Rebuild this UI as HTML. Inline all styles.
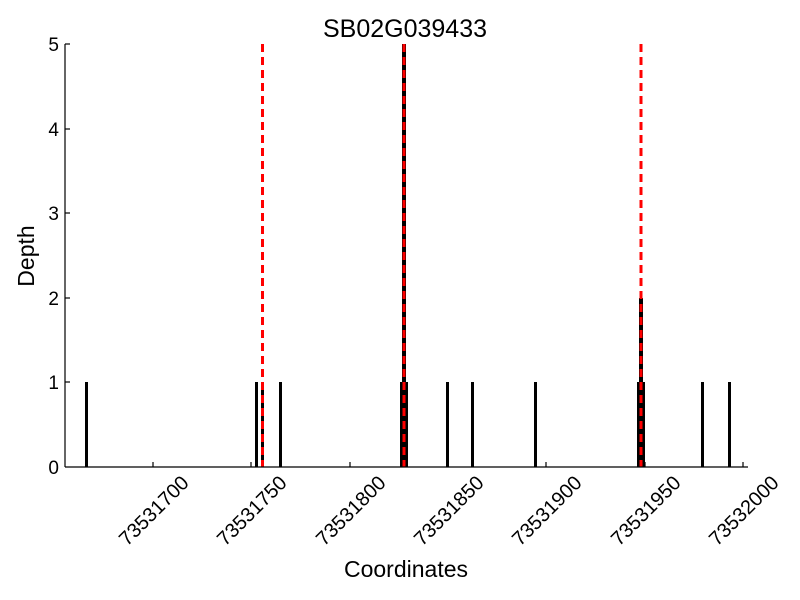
<!DOCTYPE html>
<html><head><meta charset="utf-8"><style>body{margin:0;background:#fff}svg{display:block}</style></head>
<body>
<svg width="800" height="600" xmlns="http://www.w3.org/2000/svg" font-family="Liberation Sans, DejaVu Sans, sans-serif">
<rect width="800" height="600" fill="#fff"/>
<text x="405" y="37" font-size="25" text-anchor="middle">SB02G039433</text>
<g fill="#000">
<rect x="85" y="382" width="3" height="85"/>
<rect x="255" y="382" width="3" height="85"/>
<rect x="261" y="382" width="3" height="85"/>
<rect x="279" y="382" width="3" height="85"/>
<rect x="400" y="382" width="3" height="85"/>
<rect x="405" y="382" width="3" height="85"/>
<rect x="402" y="44" width="4" height="423"/>
<rect x="446" y="382" width="3" height="85"/>
<rect x="471" y="382" width="3" height="85"/>
<rect x="534" y="382" width="3" height="85"/>
<rect x="637" y="382" width="3" height="85"/>
<rect x="642" y="382" width="3" height="85"/>
<rect x="639" y="298" width="4" height="169"/>
<rect x="701" y="382" width="3" height="85"/>
<rect x="728" y="382" width="3" height="85"/>
</g>
<g stroke="#f00" stroke-width="3" stroke-dasharray="8,5">
<line x1="262.5" y1="44" x2="262.5" y2="467"/>
<line x1="404" y1="44" x2="404" y2="467"/>
<line x1="641" y1="44" x2="641" y2="467"/>
</g>
<g stroke="#000" stroke-width="1.2" fill="none">
<line x1="65" y1="44" x2="65" y2="467"/>
<line x1="65" y1="467" x2="748" y2="467"/>
<line x1="65" y1="44" x2="70" y2="44"/>
<line x1="65" y1="129" x2="70" y2="129"/>
<line x1="65" y1="213" x2="70" y2="213"/>
<line x1="65" y1="298" x2="70" y2="298"/>
<line x1="65" y1="382" x2="70" y2="382"/>
<line x1="153" y1="467" x2="153" y2="462"/>
<line x1="251" y1="467" x2="251" y2="462"/>
<line x1="350" y1="467" x2="350" y2="462"/>
<line x1="448" y1="467" x2="448" y2="462"/>
<line x1="546" y1="467" x2="546" y2="462"/>
<line x1="645" y1="467" x2="645" y2="462"/>
<line x1="743" y1="467" x2="743" y2="462"/>
</g>
<g font-size="19" text-anchor="end">
<text x="59" y="51">5</text>
<text x="59" y="136">4</text>
<text x="59" y="220">3</text>
<text x="59" y="305">2</text>
<text x="59" y="389">1</text>
<text x="59" y="474">0</text>
</g>
<g font-size="20" text-anchor="end">
<text transform="translate(190,484) rotate(-45)">73531700</text>
<text transform="translate(288,484) rotate(-45)">73531750</text>
<text transform="translate(387,484) rotate(-45)">73531800</text>
<text transform="translate(485,484) rotate(-45)">73531850</text>
<text transform="translate(583,484) rotate(-45)">73531900</text>
<text transform="translate(682,484) rotate(-45)">73531950</text>
<text transform="translate(780,484) rotate(-45)">73532000</text>
</g>
<text x="406" y="577" font-size="23" text-anchor="middle">Coordinates</text>
<text transform="translate(34,256) rotate(-90)" font-size="23" text-anchor="middle">Depth</text>
</svg>
</body></html>
